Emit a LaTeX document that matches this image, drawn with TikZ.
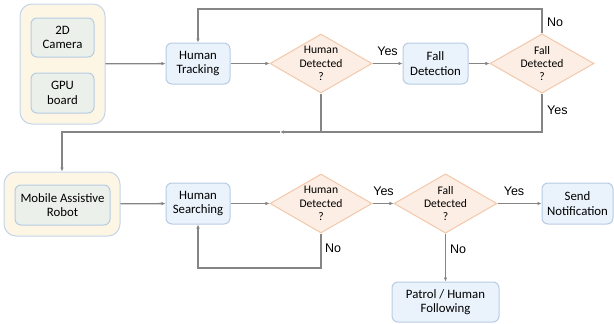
\documentclass[tikz,border=0pt]{standalone}
\usepackage{fontspec}
\setmainfont{Carlito}
\newfontfamily\lblfont{Liberation Sans}
\usetikzlibrary{shapes.geometric,arrows.meta}
\definecolor{procfill}{HTML}{EAF2FB}
\definecolor{procdraw}{HTML}{B7CCE3}
\definecolor{decfill}{HTML}{FCEEE4}
\definecolor{decdraw}{HTML}{F3C8AA}
\definecolor{contfill}{HTML}{FDF6E4}
\definecolor{contdraw}{HTML}{C3D6EA}
\definecolor{innfill}{HTML}{EBF0EA}
\definecolor{linecol}{HTML}{858585}
\tikzset{
  proc/.style={draw=procdraw, fill=procfill, line width=1pt, rounded corners=6pt,
    align=center, font=\fontsize{12.8}{14.5}\selectfont, inner sep=0pt},
  dec/.style={diamond, aspect=1.73, draw=decdraw, fill=decfill, line width=1pt,
    align=center, font=\fontsize{11.6}{13.2}\selectfont, inner sep=0pt,
    minimum width=102pt, minimum height=59pt},
  cont/.style={draw=contdraw, fill=contfill, line width=1pt, rounded corners=12pt, inner sep=0pt},
  inn/.style={draw=procdraw, fill=innfill, line width=1pt, rounded corners=6pt,
    align=center, font=\fontsize{12.8}{14.5}\selectfont, inner sep=0pt},
  conn/.style={draw=linecol, line width=1.3pt, -{Latex[length=4pt,width=3.6pt]}},
  plain/.style={draw=linecol, line width=1.3pt},
  lbl/.style={font=\lblfont\fontsize{12.5}{14}\selectfont, inner sep=1pt},
}
\begin{document}
\begin{tikzpicture}[x=1pt,y=-1pt]
\useasboundingbox (0,0) rectangle (614,324);
% top row
\node[cont, minimum width=85pt, minimum height=120pt] (c1) at (62.5,64) {};
\node[inn, minimum width=63pt, minimum height=39pt] (cam) at (62.5,37.5) {2D\\Camera};
\node[inn, minimum width=63pt, minimum height=40pt] (gpu) at (62.5,93) {GPU\\board};
\node[proc, minimum width=64pt, minimum height=41pt] (ht) at (198,63.5) {Human\\Tracking};
\node[dec] (d1) at (321,63.5) {Human\\Detected\\?};
\node[proc, minimum width=65pt, minimum height=41pt] (fd) at (435.5,63.5) {Fall\\Detection};
\node[dec, minimum width=104pt] (d2) at (542,63.5) {Fall\\Detected\\?};
% bottom row
\node[cont, minimum width=116pt, minimum height=64pt] (c2) at (62,204) {};
\node[inn, minimum width=95pt, minimum height=40pt] (mar) at (62.5,205) {Mobile Assistive\\Robot};
\node[proc, minimum width=64pt, minimum height=41pt] (hs) at (198,203.5) {Human\\Searching};
\node[dec] (d3) at (321,203.5) {Human\\Detected\\?};
\node[dec, minimum width=103pt] (d4) at (445.5,203.5) {Fall\\Detected\\?};
\node[proc, minimum width=71pt, minimum height=41pt] (sn) at (577.5,203.5) {Send\\Notification};
\node[proc, minimum width=107pt, minimum height=40pt] (ph) at (445.5,302) {Patrol / Human\\Following};
% helper coordinates
\coordinate (topy) at (0,9);
\coordinate (midy) at (0,132);
\coordinate (ah) at (280,132);
\coordinate (boty) at (0,268);
% top connectors
\draw[conn] (c1) -- (ht);
\draw[conn] (ht) -- (d1);
\draw[conn] (d1) -- (fd);
\node[lbl] (yes1) at (387.5,51) {Yes};
\draw[conn] (fd) -- (d2);
\draw[conn] (d2.north) -- (d2.north |- topy) -| (ht.north);
\node[lbl, anchor=west] (no1) at (546,22) {No};
\draw[conn] (d2.south) |- (ah);
\node[lbl, anchor=west] (yes2) at (546,110) {Yes};
\draw[plain] (d1.south) -- (d1.south |- midy);
\draw[conn] (ah) -| (c2.north);
% bottom connectors
\draw[conn] (c2) -- (hs);
\draw[conn] (hs) -- (d3);
\draw[conn] (d3) -- (d4);
\node[lbl] (yes3) at (383.5,191) {Yes};
\draw[conn] (d4) -- (sn);
\node[lbl] (yes4) at (514,191) {Yes};
\draw[conn] (d3.south) -- (d3.south |- boty) -| (hs.south);
\node[lbl, anchor=west] (no2) at (324,248) {No};
\draw[conn] (d4) -- (ph);
\node[lbl, anchor=west] (no3) at (449,249) {No};
\end{tikzpicture}
\end{document}
